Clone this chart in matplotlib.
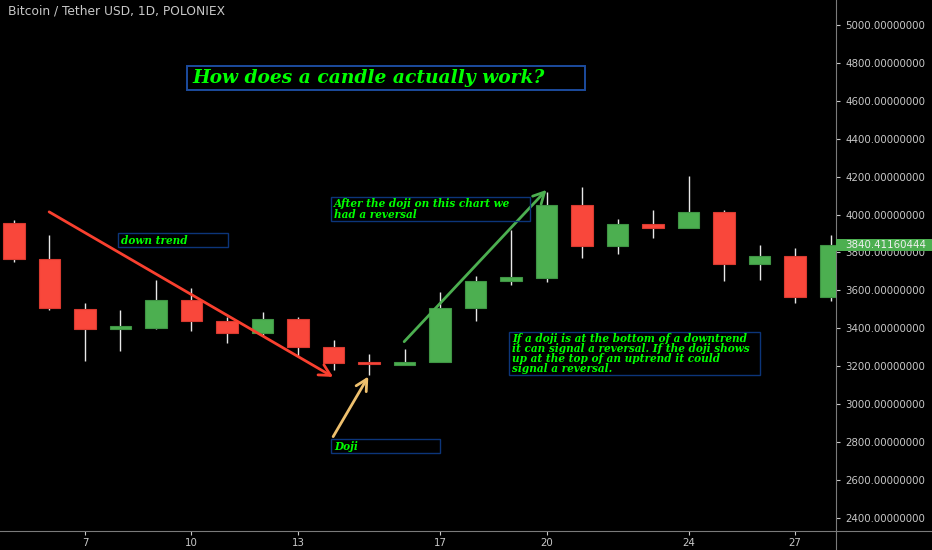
import numpy as np
import matplotlib
matplotlib.use("Agg")
import matplotlib.pyplot as plt
from matplotlib.patches import Rectangle

days = list(range(5, 29))
opens = [3957, 3766, 3502, 3398, 3402, 3549, 3438, 3375, 3449, 3303, 3224, 3208,
         3222, 3505, 3650, 3664, 4052, 3836, 3950, 3928, 4012, 3741, 3780, 3565]
closes = [3766, 3505, 3398, 3410, 3549, 3438, 3375, 3447, 3301, 3218, 3212, 3222,
          3505, 3651, 3671, 4052, 3836, 3950, 3928, 4012, 3738, 3780, 3565, 3840.41]
highs = [3971, 3892, 3532, 3495, 3655, 3613, 3461, 3488, 3460, 3340, 3264, 3291,
         3590, 3678, 3919, 4121, 4147, 3975, 4024, 4204, 4024, 3840, 3822, 3891]
lows = [3748, 3497, 3226, 3282, 3396, 3384, 3321, 3359, 3254, 3180, 3155, 3208,
        3222, 3440, 3627, 3646, 3769, 3792, 3876, 3928, 3651, 3656, 3535, 3546]

y_ticks = list(range(2400, 5200, 200))
x_ticks = [7, 10, 13, 17, 20, 24, 27]
last_price = 3840.41160444

RED = "#f9473b"
GREEN = "#4caf50"
GREEN_TXT = "#00ff00"
GREY = "#c8c8c8"
SERIF = "DejaVu Serif"

fig = plt.figure(figsize=(9.32, 5.5), dpi=100, facecolor="black")
# price pane ends at x=835.5, y=531 in the 932x550 picture
ax = fig.add_axes([0, 19 / 550, 835.5 / 932, 531 / 550], facecolor="black")

for d, o, c, h, l in zip(days, opens, closes, highs, lows):
    col = GREEN if c >= o else RED
    edge = "#3f9444" if c >= o else "#d83a30"
    ax.vlines(d, l, h, color="#e8e8e8", lw=1.0, zorder=2)
    ax.bar(d, max(abs(c - o), 10), bottom=min(o, c), width=0.61, color=col,
           edgecolor=edge, linewidth=0.8, zorder=3)

ax.set_xlim(4.606, 28.14)
ax.set_ylim(2330, 5132)
ax.yaxis.tick_right()
ax.set_yticks(y_ticks)
ax.set_yticklabels(["%.8f" % v for v in y_ticks])
ax.set_xticks(x_ticks)
ax.set_xticklabels([str(v) for v in x_ticks])
ax.tick_params(axis="both", colors=GREY, labelsize=7.4, length=3, width=0.8, pad=4)
ax.tick_params(axis="x", pad=2)
for name in ["top", "left"]:
    ax.spines[name].set_visible(False)
for name in ["right", "bottom"]:
    ax.spines[name].set_color("#7a7a7a")


def trend_arrow(start, tip, col):
    ax.annotate("", xy=tip, xytext=start, zorder=5,
                arrowprops=dict(arrowstyle="->,head_length=0.8,head_width=0.42", color=col, lw=2.0,
                                shrinkA=0, shrinkB=0))


trend_arrow((5.99, 4014), (13.99, 3143), "#f9402f")
trend_arrow((13.99, 2828), (14.98, 3145), "#eec06e")
trend_arrow((15.99, 3329), (20.0, 4130), GREEN)

# overlay in picture pixels for the notes and the parts outside the pane
ov = fig.add_axes([0, 0, 1, 1], facecolor="none")
ov.set_xlim(0, 932)
ov.set_ylim(550, 0)
ov.axis("off")


def note(x0, y0, x1, y1, txt, size, edge="#0c357a", lw=1.0, tx=None):
    ov.add_patch(Rectangle((x0, y0), x1 - x0, y1 - y0, fill=False, edgecolor=edge, lw=lw))
    ov.text(x0 + 3 if tx is None else tx, (y0 + y1) / 2, txt, color=GREEN_TXT, fontsize=size,
            family=SERIF, style="italic", weight="bold", va="center", ha="left", linespacing=0.9)


note(187, 66, 585, 90, "How does a candle actually work?", 13.4, edge="#1c4c9e", lw=1.4, tx=192)
note(118, 233, 228, 247, "down trend", 7.6)
note(331, 197, 530, 221, "After the doji on this chart we\nhad a reversal", 7.6)
note(331, 439, 440, 453, "Doji", 7.6)
note(509, 332, 760, 375,
     "If a doji is at the bottom of a downtrend\nit can signal a reversal. If the doji shows\n"
     "up at the top of an uptrend it could\nsignal a reversal.", 7.6)

ov.text(8, 11, "Bitcoin / Tether USD, 1D, POLONIEX", color=GREY, fontsize=8.8, va="center", ha="left")

# axis lines run on past the pane corner
ov.plot([835.5, 835.5], [531, 550], color="#7a7a7a", lw=0.8)
ov.plot([835.5, 932], [531, 531], color="#7a7a7a", lw=0.8)

# last price tag
ov.add_patch(Rectangle((836, 239), 96, 11.5, facecolor=GREEN, edgecolor="none", zorder=4))
ov.text(845, 244.8, "%.8f" % last_price, color="#f0f0f0", fontsize=7.4, va="center", ha="left", zorder=5)

fig.savefig("out.png", dpi=100, facecolor="black")
